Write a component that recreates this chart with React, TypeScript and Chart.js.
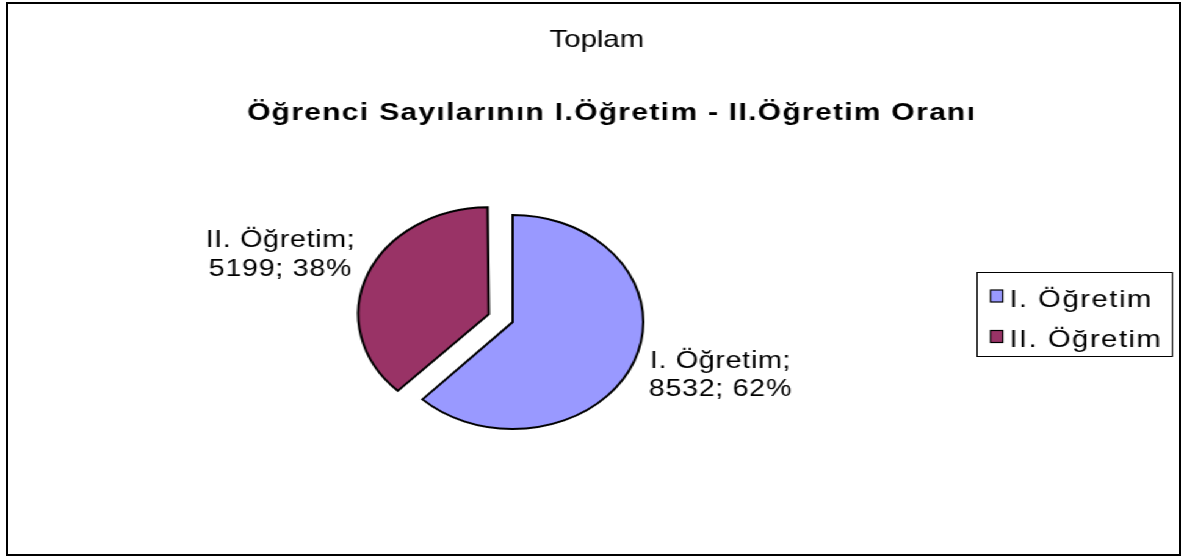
import React, { useEffect, useRef } from "react";
import { Chart, registerables } from "chart.js";

Chart.register(...registerables);

// ---- data ----
const categories = ["I. Öğretim", "II. Öğretim"];
const values = [8532, 5199];
const sliceColors = ["#9999FF", "#993366"];
const explode = [0, 84];
const chartHeading = "Toplam";
const chartTitle = "Öğrenci Sayılarının I.Öğretim - II.Öğretim Oranı";

// ---- layout / style ----
const PAGE_W = 1184;
const CW = 970;
const CH = 560;
const STRETCH = PAGE_W / CW;
const PIE_RADIUS = 107;
const FONT = "'Liberation Sans', Arial, Helvetica, sans-serif";
const LABEL_SIZE = 23.5;
const LABEL_OFFSETS: [number, number][] = [
  [170, 51.5],
  [-171, -61],
];

function spacedText(
  ctx: CanvasRenderingContext2D,
  text: string,
  x: number,
  y: number,
  font: string,
  spacing: number,
  align: "left" | "center"
) {
  ctx.save();
  ctx.font = font;
  (ctx as any).letterSpacing = "0px";
  const base = ctx.measureText(text).width;
  const n = Array.from(text).length;
  const w = base + spacing * (n - 1);
  (ctx as any).letterSpacing = spacing + "px";
  ctx.textAlign = "left";
  ctx.textBaseline = "alphabetic";
  ctx.fillStyle = "#000";
  const x0 = align === "center" ? x - w / 2 : x;
  ctx.fillText(text, x0, y);
  ctx.restore();
}

const excelPlugin = {
  id: "excelLook",
  beforeDatasetsDraw(chart: any) {
    const meta = chart.getDatasetMeta(0);
    meta.data.forEach((arc: any) => {
      const off = (arc.options.offset || 0) / 4;
      const fix = 1 - Math.sin(Math.min(Math.PI, arc.circumference || 0));
      arc.outerRadius = PIE_RADIUS - off * fix;
    });
  },
  afterDraw(chart: any) {
    const ctx: CanvasRenderingContext2D = chart.ctx;
    // headings
    spacedText(ctx, chartHeading, 489, 46.7, `normal 24px ${FONT}`, 0, "center");
    spacedText(ctx, chartTitle, 500.6, 119.5, `bold 24.5px ${FONT}`, 1.1, "center");

    // data labels
    const total = values.reduce((a, b) => a + b, 0);
    const meta = chart.getDatasetMeta(0);
    meta.data.forEach((arc: any, i: number) => {
      const off = (arc.options.offset || 0) / 4;
      const mid = (arc.startAngle + arc.endAngle) / 2;
      const cx = arc.x + Math.cos(mid) * off + LABEL_OFFSETS[i][0];
      const cy = arc.y + Math.sin(mid) * off + LABEL_OFFSETS[i][1];
      const pct = Math.round((values[i] / total) * 100);
      const lines = [`${categories[i]};`, `${values[i]}; ${pct}%`];
      const gap = 28.5;
      const cap = LABEL_SIZE * 0.716;
      const y1 = cy - gap / 2 + cap / 2;
      lines.forEach((ln, j) => {
        spacedText(ctx, ln, cx, y1 + j * gap, `normal ${LABEL_SIZE}px ${FONT}`, 0.55, "center");
      });
    });

    // legend
    ctx.save();
    ctx.strokeStyle = "#000";
    ctx.lineWidth = 1;
    ctx.strokeRect(800.5, 272.5, 160, 84);
    categories.forEach((cat, i) => {
      const rowY = 296 + i * 40.5;
      ctx.fillStyle = sliceColors[i];
      ctx.fillRect(811.5, rowY - 6, 10, 12);
      ctx.strokeStyle = "#000";
      ctx.lineWidth = 1.2;
      ctx.strokeRect(811.5, rowY - 6, 10, 12);
      spacedText(ctx, cat, 827, rowY + 10.5, `normal 24px ${FONT}`, 1.2, "left");
    });
    ctx.restore();
  },
};

export default function App() {
  const canvasRef = useRef<HTMLCanvasElement | null>(null);

  useEffect(() => {
    const canvas = canvasRef.current;
    if (!canvas) return;
    const chart = new Chart(canvas, {
      type: "pie",
      data: {
        labels: categories,
        datasets: [
          {
            data: values,
            backgroundColor: sliceColors,
            borderColor: "#000",
            borderWidth: 2,
            borderJoinStyle: "miter",
            offset: explode,
            radius: PIE_RADIUS,
          } as any,
        ],
      },
      options: {
        responsive: false,
        animation: false,
        events: [],
        layout: { padding: { left: 0, right: 130, top: 84, bottom: 0 } },
        plugins: {
          legend: { display: false },
          title: { display: false },
          tooltip: { enabled: false },
        },
      },
      plugins: [excelPlugin],
    });
    return () => chart.destroy();
  }, []);

  return (
    <>
      <div
        style={{
          position: "absolute",
          left: 0,
          top: 0,
          width: CW,
          height: CH,
          transform: `scaleX(${STRETCH})`,
          transformOrigin: "0 0",
          background: "#fff",
        }}
      >
        <canvas
          ref={canvasRef}
          width={CW}
          height={CH}
          style={{ width: CW, height: CH, display: "block" }}
        />
      </div>
      <div
        style={{
          position: "absolute",
          left: 6,
          top: 2,
          width: 1175,
          height: 554,
          boxSizing: "border-box",
          border: "2px solid #000",
          pointerEvents: "none",
        }}
      />
    </>
  );
}
